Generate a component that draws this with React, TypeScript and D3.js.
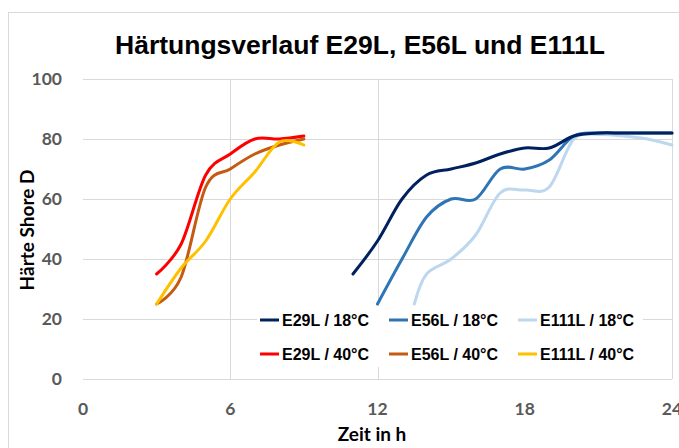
import React from "react";
import * as d3 from "d3";

const xTicks = [0, 6, 12, 18, 24];
const yTicks = [0, 20, 40, 60, 80, 100];
const xGrid = [6, 12, 24];

const e29l40Hours = [3, 4, 5, 6, 7, 8, 9];
const e29l40Values = [35, 45, 68, 75, 80, 80, 81];
const e56l40Hours = [3, 4, 5, 6, 7, 8, 9];
const e56l40Values = [25, 34, 64, 70, 75, 78, 80];
const e111l40Hours = [3, 4, 5, 6, 7, 8, 9];
const e111l40Values = [25, 37, 46, 60, 69, 79, 78];

const e29l18Hours = [11, 12, 13, 14, 15, 16, 17, 18, 19, 20, 21, 22, 23, 24];
const e29l18Values = [35, 46, 60, 68, 70, 72, 75, 77, 77, 81, 82, 82, 82, 82];
const e56l18Hours = [12, 13, 14, 15, 16, 17, 18, 19, 20, 21, 22, 23, 24];
const e56l18Values = [25, 40, 54, 60, 60, 70, 70, 73, 81, 82, 82, 82, 82];
const e111l18Hours = [13.5, 14, 15, 16, 17, 18, 19, 20, 21, 22, 23, 24];
const e111l18Values = [25, 35, 40, 48, 62, 63, 64, 80, 81.5, 81, 80, 78];

const seriesNames = [
  "E29L / 18°C", "E56L / 18°C", "E111L / 18°C",
  "E29L / 40°C", "E56L / 40°C", "E111L / 40°C",
];
const seriesColors = ["#002060", "#2E75B6", "#BDD7EE", "#FF0000", "#C55A11", "#FFC000"];
const seriesHours = [e29l18Hours, e56l18Hours, e111l18Hours, e29l40Hours, e56l40Hours, e111l40Hours];
const seriesValues = [e29l18Values, e56l18Values, e111l18Values, e29l40Values, e56l40Values, e111l40Values];

export default function App() {
  const x = d3.scaleLinear().domain([0, 24]).range([83, 672]);
  const y = d3.scaleLinear().domain([0, 100]).range([379, 79]);
  const line = d3
    .line<[number, number]>()
    .x((d) => x(d[0]))
    .y((d) => y(d[1]))
    .curve(d3.curveCardinal.tension(0));

  const drawOrder = [3, 4, 5, 2, 1, 0];
  const legendCols = [260, 389, 518];
  const legendRows = [320, 354];
  const tickFont = "Lato, 'Open Sans', sans-serif";
  const arial = "'Liberation Sans', Arial, sans-serif";

  return (
    <svg width={679} height={448} style={{ position: "absolute", left: 0, top: 0 }}>
      <rect x={0} y={0} width={679} height={448} fill="#fff" />
      <rect x={8.5} y={12.5} width={720} height={460} fill="#fff" stroke="#d9d9d9" />
      <text x={360} y={54} textAnchor="middle" fontFamily={arial} fontWeight="bold" fontSize={26.5} fill="#000">
        Härtungsverlauf E29L, E56L und E111L
      </text>
      {yTicks.map((t) => (
        <line key={"hy" + t} x1={83} x2={672} y1={Math.round(y(t)) + 0.5} y2={Math.round(y(t)) + 0.5} stroke="#d9d9d9" strokeWidth={1} />
      ))}
      {xGrid.map((t) => (
        <line key={"vx" + t} x1={Math.round(x(t)) + 0.5} x2={Math.round(x(t)) + 0.5} y1={y(100)} y2={y(0)} stroke="#d9d9d9" strokeWidth={1} />
      ))}
      {yTicks.map((t) => (
        <text key={"ty" + t} x={62} y={y(t) + 6} textAnchor="end" fontFamily={tickFont} fontWeight="bold" fontSize={17.5} fill="#595959">
          {t}
        </text>
      ))}
      {xTicks.map((t) => (
        <text key={"tx" + t} x={x(t)} y={415} textAnchor="middle" fontFamily={tickFont} fontWeight="bold" fontSize={17.5} fill="#595959">
          {t}
        </text>
      ))}
      <text x={372} y={441} textAnchor="middle" fontFamily={tickFont} fontWeight="bold" fontSize={19} fill="#000">
        Zeit in h
      </text>
      <text transform="translate(34,230) rotate(-90)" textAnchor="middle" fontFamily={tickFont} fontWeight="bold" fontSize={19} fill="#000">
        Härte Shore D
      </text>
      {drawOrder.map((i) => (
        <path
          key={"s" + i}
          d={line(seriesHours[i].map((h, k) => [h, seriesValues[i][k]] as [number, number])) || ""}
          fill="none"
          stroke={seriesColors[i]}
          strokeWidth={3}
          strokeLinejoin="round"
          strokeLinecap="round"
        />
      ))}
      <rect x={257} y={306} width={386} height={61} fill="#fff" />
      {seriesNames.map((name, i) => {
        const cx = legendCols[i % 3];
        const cy = legendRows[Math.floor(i / 3)];
        return (
          <g key={"lg" + i}>
            <line x1={cx} x2={cx + 19} y1={cy} y2={cy} stroke={seriesColors[i]} strokeWidth={3} />
            <text x={cx + 22} y={cy + 6} fontFamily={arial} fontWeight="bold" fontSize={16} fill="#000">
              {name}
            </text>
          </g>
        );
      })}
    </svg>
  );
}
